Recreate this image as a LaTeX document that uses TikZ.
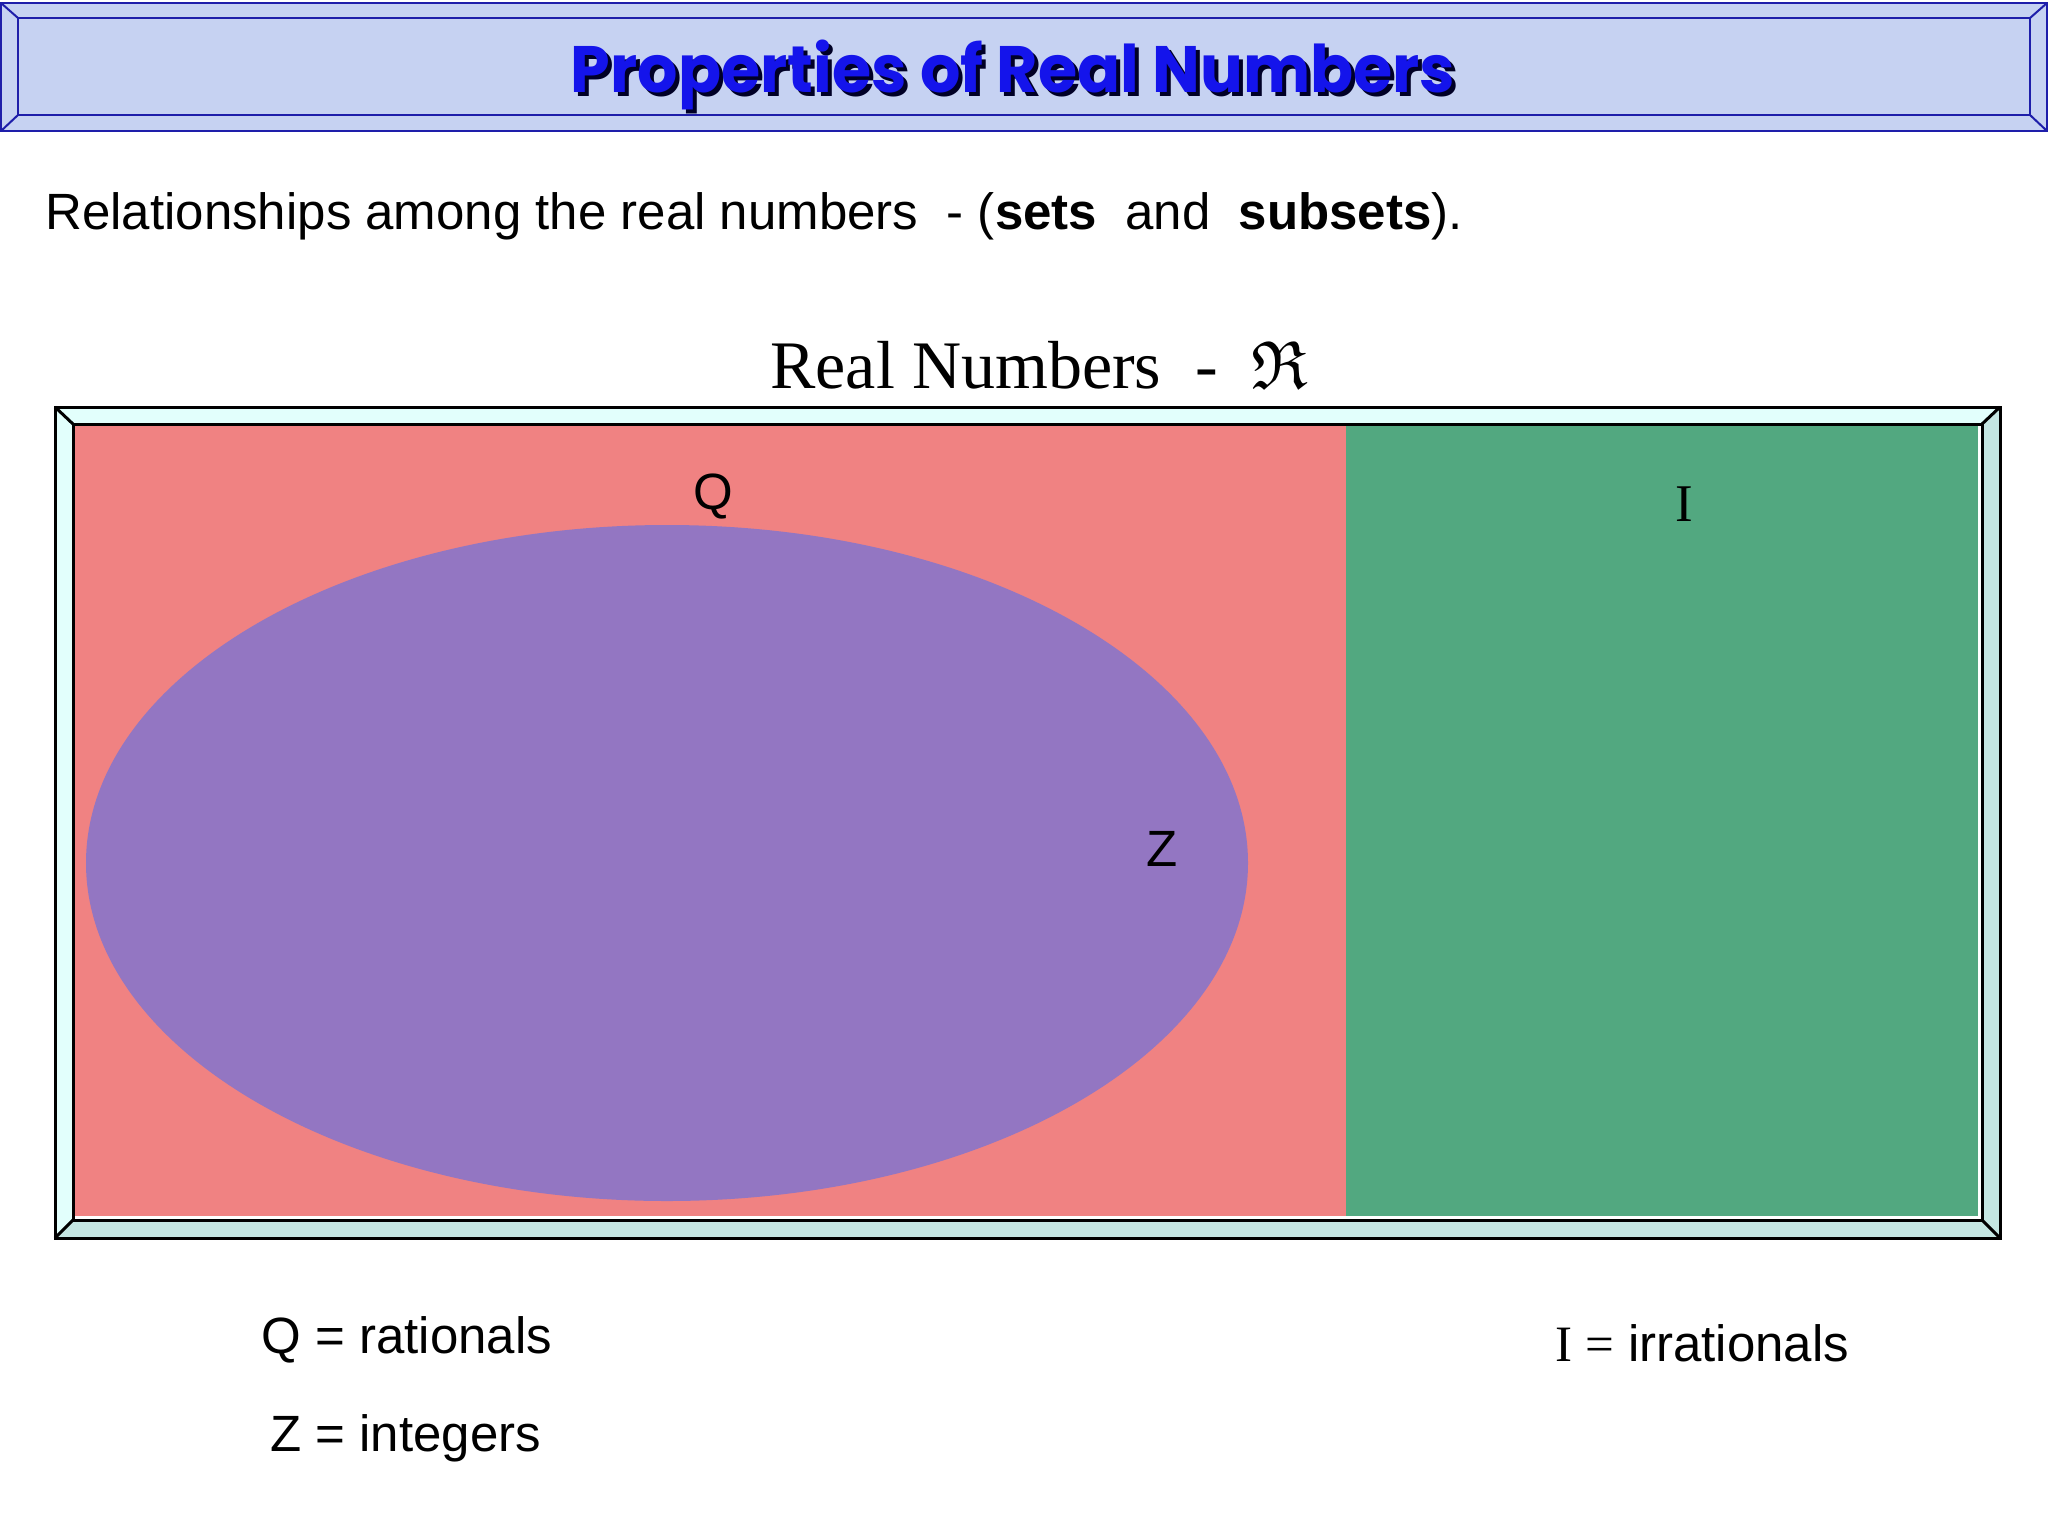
\documentclass[tikz,border=0pt]{standalone}
\usepackage{fontspec}
\usepackage{amssymb}
\usepackage{graphicx}
\setmainfont{Liberation Serif}
\setsansfont{Liberation Sans}
\newfontfamily\titlefont{Poppins}
\newfontfamily\arialf{Liberation Sans}
\newfontfamily\timesf{Liberation Serif}
\usetikzlibrary{shapes.geometric}
\definecolor{barfill}{RGB}{198,210,242}
\definecolor{barline}{RGB}{30,30,170}
\definecolor{titleblue}{RGB}{20,20,235}
\definecolor{bevlight}{RGB}{226,255,252}
\definecolor{bevdark}{RGB}{196,230,226}
\definecolor{qpink}{RGB}{240,130,130}
\definecolor{igreen}{RGB}{82,168,128}
\definecolor{zpurple}{RGB}{147,118,194}
\tikzset{
  barstroke/.style={draw=barline, line width=1pt},
  framestroke/.style={draw=black, line width=1.5pt, line join=miter},
  arialtxt/.style={inner sep=0pt, font=\arialf\fontsize{25.5pt}{30pt}\selectfont},
  timestxt/.style={inner sep=0pt, font=\timesf\fontsize{26.5pt}{30pt}\selectfont},
}
\begin{document}
\begin{tikzpicture}[x=0.5pt,y=-0.5pt]
\useasboundingbox (0,0) rectangle (2048,1536);
\fill[white] (0,0) rectangle (2048,1536);
% title bar
\fill[barfill] (1,3) rectangle (2047,131);
\draw[barstroke] (1,3) rectangle (2047,131);
\draw[barstroke] (18,18) rectangle (2030,115);
\draw[barstroke] (1,3)--(18,18) (2047,3)--(2030,18) (1,131)--(18,115) (2047,131)--(2030,115);
\node[inner sep=0pt, anchor=base, text=black!85!blue] (titleshadow) at (1017,97)
  {\resizebox*{442pt}{35pt}{\titlefont\bfseries Properties of Real Numbers}};
\node[inner sep=0pt, anchor=base, text=titleblue] (title) at (1013,93)
  {\resizebox*{442pt}{35pt}{\titlefont\bfseries Properties of Real Numbers}};
% subtitle
\node[inner sep=0pt, anchor=base west, font=\arialf\fontsize{25.5pt}{30pt}\selectfont] (subtitle) at (45,229)
  {Relationships among the real numbers\ \ - (\textbf{sets}\ \ and\ \ \textbf{subsets}).};
% real numbers heading
\node[inner sep=0pt, anchor=base west, font=\timesf\fontsize{34pt}{40pt}\selectfont] (realhead) at (770,388)
  {Real Numbers\ \ -\ \ $\mathfrak{R}$};
% frame bevel
\coordinate (otl) at (55,407); \coordinate (otr) at (2000,407);
\coordinate (obl) at (55,1238); \coordinate (obr) at (2000,1238);
\coordinate (itl) at (73,424); \coordinate (itr) at (1982,424);
\coordinate (ibl) at (73,1220); \coordinate (ibr) at (1982,1220);
\fill[bevlight] (otl)--(otr)--(itr)--(itl)--cycle;
\fill[bevlight] (otl)--(itl)--(ibl)--(obl)--cycle;
\fill[bevdark] (otr)--(obr)--(ibr)--(itr)--cycle;
\fill[bevdark] (obl)--(obr)--(ibr)--(ibl)--cycle;
\fill[white] (itl) rectangle (ibr);
% regions
\fill[qpink] (75,426) rectangle (1346,1216);
\fill[igreen] (1346,426) rectangle (1978,1216);
\node[ellipse, fill=zpurple, draw=none, minimum width=581pt, minimum height=338pt, inner sep=0pt] (zset) at (667,863) {};
\draw[framestroke] (otl) rectangle (obr);
\draw[framestroke] (itl) rectangle (ibr);
\draw[framestroke] (otl)--(itl) (otr)--(itr) (obl)--(ibl) (obr)--(ibr);
% labels
\node[arialtxt] (qlab) at (713,497) {Q};
\node[arialtxt] (zlab) at (1162,849) {Z};
\node[timestxt] (ilab) at (1684,504) {I};
% legend
\node[arialtxt, anchor=base west] (qleg) at (261,1353) {Q = rationals};
\node[arialtxt, anchor=base west] (zleg) at (270,1451) {Z = integers};
\node[arialtxt, anchor=base west] (ileg) at (1555,1361) {{\timesf I =} irrationals};
\end{tikzpicture}
\end{document}
